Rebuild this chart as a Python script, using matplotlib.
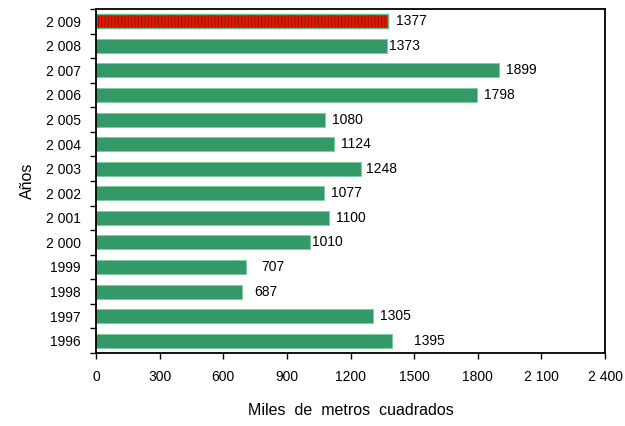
import matplotlib.pyplot as plt
import numpy as np

plt.rcParams['font.family'] = ['Liberation Sans', 'DejaVu Sans']
plt.rcParams['hatch.linewidth'] = 0.7

years = ['1996', '1997', '1998', '1999', '2 000', '2 001', '2 002', '2 003',
         '2 004', '2 005', '2 006', '2 007', '2 008', '2 009']
values = [1395, 1305, 687, 707, 1010, 1100, 1077, 1248, 1124, 1080, 1798, 1899, 1373, 1377]
labels = ['1395', '1305', '687', '707', '1010', '1100', '1077', '1248', '1124', '1080',
          '1798', '1899', '1373', '1377']
# gap between bar end and label (points)
gaps = [16, 5, 9, 11, 1, 5, 5, 4, 5, 5, 5, 5, 1, 6]

xticks = [0, 300, 600, 900, 1200, 1500, 1800, 2100, 2400]
xticklabels = ['0', '300', '600', '900', '1200', '1500', '1800', '2 100', '2 400']

fig = plt.figure(figsize=(6.25, 4.26), dpi=100)
ax = fig.add_axes([0.1536, 0.1714, 0.8144, 0.8075])

y = np.arange(len(years))
green = '#339966'
ax.barh(y[:-1], values[:-1], height=0.57, color=green, edgecolor='#7fc9a0', linewidth=0.6)
ax.barh(y[-1], values[-1], height=0.57, color='#dd1a00', edgecolor='#a01000', hatch='|||||', linewidth=0)
ax.barh(y[-1], values[-1], height=0.57, fill=False, edgecolor='#66bb88', linewidth=1.0)

for yi, v, lab, g in zip(y, values, labels, gaps):
    ax.annotate(lab, (v, yi), xytext=(g, 0), textcoords='offset points',
                va='center', ha='left', fontsize=10)

ax.set_xlim(0, 2400)
ax.set_ylim(-0.5, len(years) - 0.5)
ax.set_xticks(xticks)
ax.set_xticklabels(xticklabels, fontsize=10)
ax.set_yticks(y)
ax.set_yticklabels(years, fontsize=10)
ax.set_yticks(np.arange(-0.5, len(years)), minor=True)
ax.tick_params(axis='y', which='major', length=0, pad=11)
ax.tick_params(axis='y', which='minor', length=4, width=1)
ax.tick_params(axis='x', length=4, width=1, pad=8)

for s in ax.spines.values():
    s.set_linewidth(1.3)

ax.set_xlabel('Miles  de  metros  cuadrados', fontsize=11.5, labelpad=14)
ax.set_ylabel('Años', fontsize=11.5, labelpad=8)

fig.savefig('out.png', dpi=100)
